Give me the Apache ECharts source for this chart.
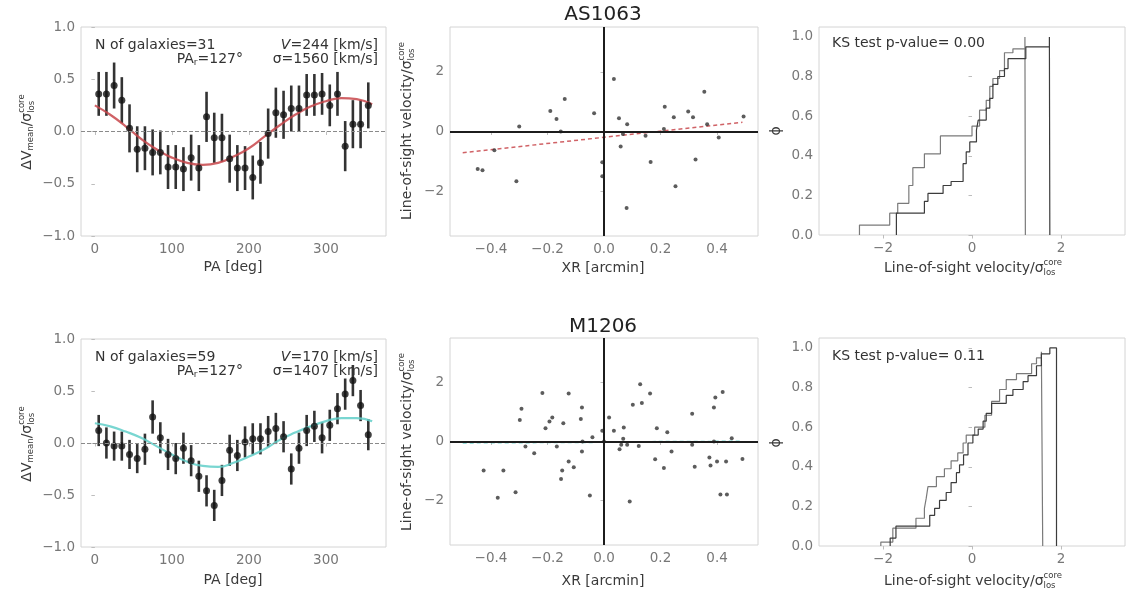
<!DOCTYPE html>
<html>
<head>
<meta charset="utf-8">
<script src="https://cdn.jsdelivr.net/npm/echarts@6/dist/echarts.min.js"></script>
<style>
  html, body { margin: 0; padding: 0; background: #fff; }
  #chart { width: 1126px; height: 595px; }
</style>
</head>
<body>
<div id="chart"></div>
<script>
// position angle bins
const paBins = [5, 15, 25, 35, 45, 55, 65, 75, 85, 95, 105, 115, 125, 135, 145, 155, 165, 175,
  185, 195, 205, 215, 225, 235, 245, 255, 265, 275, 285, 295, 305, 315, 325, 335, 345, 355];

// AS1063 rotation profile
const dvTop = [0.36, 0.36, 0.44, 0.30, 0.03, -0.17, -0.16, -0.20, -0.20, -0.34, -0.34, -0.36,
  -0.25, -0.35, 0.14, -0.06, -0.06, -0.26, -0.35, -0.35, -0.44, -0.30, -0.02, 0.18, 0.16, 0.22,
  0.22, 0.35, 0.35, 0.36, 0.25, 0.36, -0.14, 0.07, 0.07, 0.25];
const errTop = [0.21, 0.21, 0.22, 0.22, 0.23, 0.22, 0.21, 0.22, 0.21, 0.21, 0.21, 0.21, 0.22,
  0.22, 0.24, 0.24, 0.23, 0.23, 0.22, 0.21, 0.21, 0.20, 0.24, 0.24, 0.23, 0.22, 0.22, 0.20,
  0.20, 0.20, 0.20, 0.21, 0.24, 0.23, 0.23, 0.22];
const fitPA = [0, 20, 40, 60, 80, 100, 120, 140, 160, 180, 200, 220, 240, 260, 280, 300, 320, 340, 360];
const fitTop = [0.25, 0.16, 0.05, -0.07, -0.17, -0.25, -0.30, -0.32, -0.30, -0.24, -0.16, -0.05,
  0.06, 0.16, 0.24, 0.29, 0.32, 0.31, 0.26];

// M1206 rotation profile
const dvBot = [0.12, 0.00, -0.03, -0.03, -0.11, -0.15, -0.06, 0.25, 0.05, -0.11, -0.15, -0.05,
  -0.17, -0.32, -0.46, -0.60, -0.36, -0.07, -0.12, 0.01, 0.04, 0.04, 0.11, 0.14, 0.06, -0.25,
  -0.05, 0.12, 0.16, 0.05, 0.17, 0.33, 0.47, 0.60, 0.36, 0.08];
const errBot = [0.15, 0.15, 0.14, 0.14, 0.14, 0.14, 0.15, 0.16, 0.15, 0.15, 0.15, 0.15, 0.15,
  0.15, 0.15, 0.15, 0.15, 0.15, 0.15, 0.15, 0.15, 0.15, 0.15, 0.15, 0.15, 0.15, 0.15, 0.15,
  0.15, 0.15, 0.15, 0.15, 0.15, 0.15, 0.15, 0.15];
const fitBot = [0.19, 0.16, 0.11, 0.05, -0.03, -0.11, -0.18, -0.22, -0.23, -0.19, -0.13, -0.06,
  0.03, 0.10, 0.16, 0.21, 0.24, 0.24, 0.21];

// XR vs velocity, AS1063
const xrTop = [-0.447, -0.43, -0.388, -0.31, -0.30, -0.19, -0.168, -0.153, -0.139, -0.035, -0.006,
  -0.006, 0.035, 0.053, 0.059, 0.067, 0.082, 0.08, 0.147, 0.165, 0.215, 0.212, 0.247, 0.253,
  0.298, 0.315, 0.324, 0.355, 0.365, 0.406, 0.494];
const vTop = [-1.26, -1.30, -0.63, -1.67, 0.17, 0.69, 0.42, 0.0, 1.09, 0.61, -1.03, -1.50, 1.76,
  0.44, -0.50, -0.08, 0.24, -2.56, -0.14, -1.02, 0.83, 0.08, 0.48, -1.83, 0.67, 0.48, -0.94,
  1.33, 0.24, -0.20, 0.50];
const lineTopX = [-0.5, 0.49];
const lineTopY = [-0.71, 0.31];

// XR vs velocity, M1206
const xrBot = [-0.426, -0.376, -0.356, -0.313, -0.298, -0.292, -0.278, -0.247, -0.218, -0.207,
  -0.193, -0.183, -0.167, -0.152, -0.148, -0.144, -0.125, -0.125, -0.107, -0.082, -0.078, -0.078,
  -0.076, -0.050, -0.041, -0.006, 0.0, 0.018, 0.035, 0.055, 0.061, 0.068, 0.070, 0.082, 0.091,
  0.102, 0.123, 0.128, 0.134, 0.163, 0.181, 0.187, 0.212, 0.224, 0.239, 0.312, 0.312, 0.321,
  0.373, 0.377, 0.389, 0.394, 0.389, 0.400, 0.420, 0.412, 0.435, 0.432, 0.452, 0.490];
const vBot = [-0.98, -1.90, -0.98, -1.72, 0.73, 1.11, -0.17, -0.40, 1.64, 0.45, 0.68, 0.81, -0.17,
  -1.27, -0.98, 0.62, 1.62, -0.68, -0.87, 0.76, 1.15, -0.34, 0.0, -1.83, 0.14, 0.36, 0.0, 0.81,
  0.36, -0.26, -0.11, 0.09, 0.47, -0.11, -2.03, 1.24, -0.15, 1.94, 1.30, 1.62, -0.60, 0.45,
  -0.90, 0.31, -0.34, 0.94, -0.11, -0.85, -0.54, -0.81, 1.15, 1.49, 0.0, -0.68, 1.67, -1.79,
  -1.79, -0.68, 0.11, -0.59];
const lineBotX = [-0.5, 0.49];
const lineBotY = [-0.04, 0.0];

// cumulative distributions (step edges and levels)
const cdfTopDarkX = [-1.70, -1.07, -0.99, -0.65, -0.47, -0.20, -0.13, -0.05, 0.10, 0.14, 0.32,
  0.40, 0.47, 0.58, 0.73, 0.81, 1.21, 1.74];
const cdfTopDarkY = [0.11, 0.17, 0.21, 0.25, 0.27, 0.36, 0.42, 0.47, 0.53, 0.58, 0.64, 0.69,
  0.76, 0.80, 0.84, 0.89, 0.95, 1.0];
const cdfTopDarkEnd = 1.75;
const cdfTopLightX = [-2.53, -1.85, -1.67, -1.42, -1.33, -1.07, -0.71, 0.0, 0.17, 0.32, 0.40,
  0.47, 0.62, 0.73, 0.92, 1.19];
const cdfTopLightY = [0.05, 0.11, 0.16, 0.25, 0.34, 0.41, 0.50, 0.55, 0.63, 0.68, 0.75, 0.79,
  0.83, 0.92, 0.94, 1.0];
const cdfTopLightEnd = 1.20;

const cdfBotDarkX = [-1.84, -1.71, -0.95, -0.84, -0.73, -0.58, -0.47, -0.35, -0.28, -0.19, -0.09,
  0.02, 0.14, 0.25, 0.32, 0.44, 0.77, 0.92, 1.15, 1.26, 1.45, 1.56, 1.75];
const cdfBotDarkY = [0.04, 0.10, 0.155, 0.19, 0.23, 0.27, 0.32, 0.37, 0.41, 0.46, 0.52, 0.56,
  0.59, 0.63, 0.67, 0.72, 0.76, 0.79, 0.83, 0.86, 0.91, 0.97, 1.0];
const cdfBotDarkEnd = 1.90;
const cdfBotLightX = [-2.05, -1.78, -1.26, -1.07, -1.03, -0.99, -0.80, -0.62, -0.47, -0.32, -0.20,
  -0.13, 0.06, 0.29, 0.44, 0.62, 0.77, 1.00, 1.34, 1.45, 1.56];
const cdfBotLightY = [0.02, 0.09, 0.14, 0.19, 0.24, 0.30, 0.35, 0.39, 0.43, 0.47, 0.52, 0.56,
  0.60, 0.66, 0.73, 0.79, 0.84, 0.87, 0.92, 0.95, 0.98];
const cdfBotLightEnd = 1.59;

// tick labels
const paTicks = [0, 100, 200, 300];
const dvTicks = [-1, -0.5, 0, 0.5, 1];
const xrTicks = [-0.4, -0.2, 0, 0.2, 0.4];
const vTicks = [-2, 0, 2];
const cdfXTicks = [-2, 0, 2];
const cdfYTicks = [0, 0.2, 0.4, 0.6, 0.8, 1.0];

const FONT = '"DejaVu Sans"';
const chart = echarts.init(document.getElementById('chart'));

const ctx = document.createElement('canvas').getContext('2d');
function textWidth(t, size, style) {
  ctx.font = (style || '') + ' ' + size + 'px ' + FONT;
  return ctx.measureText(t).width;
}

// text with sub/superscripts, built from small pieces
function mathText(x, y, segs, opts) {
  opts = opts || {};
  const color = opts.color || '#333';
  const kids = [];
  let cur = 0;
  segs.forEach(seg => {
    const items = seg.stack || [seg];
    let w = 0;
    items.forEach(it => {
      kids.push({
        type: 'text', x: cur, y: it.dy || 0,
        style: {
          text: it.t, font: (it.st || '') + ' ' + it.s + 'px ' + FONT, fill: color,
          textAlign: 'left', align: 'left', textVerticalAlign: 'middle', verticalAlign: 'middle'
        }
      });
      w = Math.max(w, textWidth(it.t, it.s, it.st));
    });
    cur += w;
  });
  const anchor = opts.anchor || 'center';
  const shift = anchor === 'center' ? -cur / 2 : anchor === 'right' ? -cur : 0;
  kids.forEach(k => { k.x += shift; });
  return { type: 'group', x: x, y: y, rotation: opts.rotation || 0, children: kids, z: 100 };
}

function plainText(x, y, t, size, color, align) {
  return {
    type: 'text', x: x, y: y, z: 100,
    style: {
      text: t, font: size + 'px ' + FONT, fill: color, textAlign: align || 'center',
      align: align || 'center', textVerticalAlign: 'middle', verticalAlign: 'middle'
    }
  };
}

const fmt1 = v => (Math.abs(v) < 1e-9 ? '0.0' : v.toFixed(1).replace('-', '\u2212'));
const fmt0 = v => String(Math.round(v)).replace('-', '\u2212');

function xAxisCfg(grid, min, max, ticks, f) {
  return {
    type: 'value', gridIndex: grid, min: min, max: max,
    axisLine: { show: false },
    axisTick: { show: true, length: 3.5, customValues: ticks, lineStyle: { color: '#bdbdbd' } },
    axisLabel: { customValues: ticks, formatter: f, color: '#777', fontSize: 13.5, fontFamily: FONT, margin: 6 },
    splitLine: { show: false }
  };
}
function yAxisCfg(grid, min, max, ticks, f) {
  return {
    type: 'value', gridIndex: grid, min: min, max: max,
    axisLine: { show: false },
    axisTick: { show: true, length: 3.5, customValues: ticks, lineStyle: { color: '#bdbdbd' } },
    axisLabel: { customValues: ticks, formatter: f, color: '#777', fontSize: 13.5, fontFamily: FONT, margin: 6 },
    splitLine: { show: false }
  };
}

function errSeries(idx, ys, errs) {
  return {
    type: 'custom', xAxisIndex: idx, yAxisIndex: idx, z: 2,
    data: paBins.map((p, k) => [p, ys[k], errs[k]]),
    encode: { x: 0, y: 1 },
    renderItem: (params, api) => {
      const x = api.value(0), y = api.value(1), e = api.value(2);
      const a = api.coord([x, y - e]), b = api.coord([x, y + e]);
      return { type: 'line', shape: { x1: a[0], y1: a[1], x2: b[0], y2: b[1] }, style: { stroke: '#333', lineWidth: 2.6 } };
    },
    markLine: {
      silent: true, symbol: 'none', label: { show: false },
      lineStyle: { color: '#8a8a8a', type: 'dashed', width: 1 },
      data: [{ yAxis: 0 }]
    }
  };
}
function pointSeries(idx, ys) {
  return {
    type: 'scatter', xAxisIndex: idx, yAxisIndex: idx, z: 4,
    symbolSize: 7, itemStyle: { color: '#111' },
    data: paBins.map((p, k) => [p, ys[k]])
  };
}
function fitSeries(idx, ys, color) {
  return {
    type: 'line', xAxisIndex: idx, yAxisIndex: idx, z: 3, smooth: true, showSymbol: false,
    lineStyle: { color: color, width: 2.2, opacity: 0.85 },
    data: fitPA.map((p, k) => [p, ys[k]])
  };
}
function scatterSeries(idx, xs, ys) {
  return {
    type: 'scatter', xAxisIndex: idx, yAxisIndex: idx, z: 4,
    symbolSize: 4, itemStyle: { color: '#333' },
    data: xs.map((x, k) => [x, ys[k]]),
    markLine: {
      silent: true, symbol: 'none', label: { show: false },
      lineStyle: { color: '#1c1c1c', type: 'solid', width: 2 },
      data: [{ xAxis: 0 }, { yAxis: 0 }]
    }
  };
}
function trendSeries(idx, xs, ys, color, width) {
  return {
    type: 'line', xAxisIndex: idx, yAxisIndex: idx, z: 3, showSymbol: false,
    lineStyle: { color: color, width: width, type: [4, 3], opacity: 0.85 },
    data: xs.map((x, k) => [x, ys[k]])
  };
}
function cdfSeries(idx, xs, ys, end, color, width) {
  const d = [[xs[0], 0]];
  xs.forEach((x, k) => d.push([x, ys[k]]));
  d.push([end, 0]);
  return {
    type: 'line', xAxisIndex: idx, yAxisIndex: idx, step: 'end', showSymbol: false,
    lineStyle: { color: color, width: width }, data: d
  };
}

const grids = [
  { left: 81, top: 27, width: 305, height: 209 },
  { left: 450, top: 27, width: 308, height: 209 },
  { left: 819, top: 27, width: 306, height: 208 },
  { left: 81, top: 339, width: 305, height: 208 },
  { left: 450, top: 338, width: 308, height: 207 },
  { left: 819, top: 338, width: 306, height: 208 }
].map(g => Object.assign({ show: true, borderColor: '#d4d4d4', borderWidth: 1, backgroundColor: 'transparent' }, g));

const sigmaLabel = (x, y, rot) => mathText(x, y, [
  { t: 'Line-of-sight velocity/\u03c3', s: 14 },
  { stack: [{ t: 'core', s: 8.5, dy: -5 }, { t: 'los', s: 8.5, dy: 5 }] }
], { rotation: rot, color: '#3a3a3a' });
const dvLabel = (x, y) => mathText(x, y, [
  { t: '\u0394V', s: 14 }, { t: 'mean', s: 8.5, dy: 4 }, { t: '/\u03c3', s: 14 },
  { stack: [{ t: 'core', s: 8.5, dy: -5 }, { t: 'los', s: 8.5, dy: 5 }] }
], { rotation: Math.PI / 2, color: '#3a3a3a' });

function infoText(dy, n, v, s) {
  return [
    plainText(95, 45 + dy, 'N of galaxies=' + n, 14, '#333', 'left'),
    mathText(378, 45 + dy, [{ t: 'V', s: 14, st: 'italic' }, { t: '=' + v + ' [km/s]', s: 14 }], { anchor: 'right' }),
    mathText(243, 59 + dy, [{ t: 'PA', s: 14 }, { t: 'r', s: 9, dy: 4 }, { t: '=127\u00b0', s: 14 }], { anchor: 'right' }),
    mathText(378, 59 + dy, [{ t: '\u03c3=' + s + ' [km/s]', s: 14 }], { anchor: 'right' })
  ];
}

const graphics = [
  plainText(603, 15, 'AS1063', 20, '#222'),
  plainText(603, 327, 'M1206', 20, '#222'),
  plainText(233, 267, 'PA [deg]', 14, '#3a3a3a'),
  plainText(233, 580, 'PA [deg]', 14, '#3a3a3a'),
  plainText(603, 268, 'XR [arcmin]', 14, '#3a3a3a'),
  plainText(603, 581, 'XR [arcmin]', 14, '#3a3a3a'),
  sigmaLabel(973, 268, 0),
  sigmaLabel(973, 581, 0),
  sigmaLabel(407, 131, Math.PI / 2),
  sigmaLabel(407, 442, Math.PI / 2),
  dvLabel(27, 132),
  dvLabel(27, 444),
  mathText(776, 131, [{ t: '\u03d5', s: 14 }], { rotation: Math.PI / 2, color: '#3a3a3a' }),
  mathText(776, 443, [{ t: '\u03d5', s: 14 }], { rotation: Math.PI / 2, color: '#3a3a3a' }),
  plainText(832, 43, 'KS test p-value= 0.00', 14, '#333', 'left'),
  plainText(832, 356, 'KS test p-value= 0.11', 14, '#333', 'left')
].concat(infoText(0, 31, 244, 1560), infoText(312, 59, 170, 1407));

chart.setOption({
  animation: false,
  backgroundColor: '#fff',
  textStyle: { fontFamily: FONT },
  grid: grids,
  xAxis: [
    xAxisCfg(0, -18, 378, paTicks, fmt0),
    xAxisCfg(1, -0.545, 0.545, xrTicks, fmt1),
    xAxisCfg(2, -3.44, 3.44, cdfXTicks, fmt0),
    xAxisCfg(3, -18, 378, paTicks, fmt0),
    xAxisCfg(4, -0.545, 0.545, xrTicks, fmt1),
    xAxisCfg(5, -3.44, 3.44, cdfXTicks, fmt0)
  ],
  yAxis: [
    yAxisCfg(0, -1, 1, dvTicks, fmt1),
    yAxisCfg(1, -3.5, 3.5, vTicks, fmt0),
    yAxisCfg(2, 0, 1.05, cdfYTicks, fmt1),
    yAxisCfg(3, -1, 1, dvTicks, fmt1),
    yAxisCfg(4, -3.5, 3.5, vTicks, fmt0),
    yAxisCfg(5, 0, 1.05, cdfYTicks, fmt1)
  ],
  graphic: graphics,
  series: [
    errSeries(0, dvTop, errTop),
    fitSeries(0, fitTop, '#c8474b'),
    pointSeries(0, dvTop),
    scatterSeries(1, xrTop, vTop),
    trendSeries(1, lineTopX, lineTopY, '#c8474b', 1.5),
    cdfSeries(2, cdfTopLightX, cdfTopLightY, cdfTopLightEnd, '#7a7a7a', 1.2),
    cdfSeries(2, cdfTopDarkX, cdfTopDarkY, cdfTopDarkEnd, '#3c3c3c', 1.2),
    errSeries(3, dvBot, errBot),
    fitSeries(3, fitBot, '#62cfc9'),
    pointSeries(3, dvBot),
    trendSeries(4, lineBotX, lineBotY, '#62cfc9', 2),
    scatterSeries(4, xrBot, vBot),
    cdfSeries(5, cdfBotLightX, cdfBotLightY, cdfBotLightEnd, '#7a7a7a', 1.2),
    cdfSeries(5, cdfBotDarkX, cdfBotDarkY, cdfBotDarkEnd, '#3c3c3c', 1.2)
  ]
});
</script>
</body>
</html>
